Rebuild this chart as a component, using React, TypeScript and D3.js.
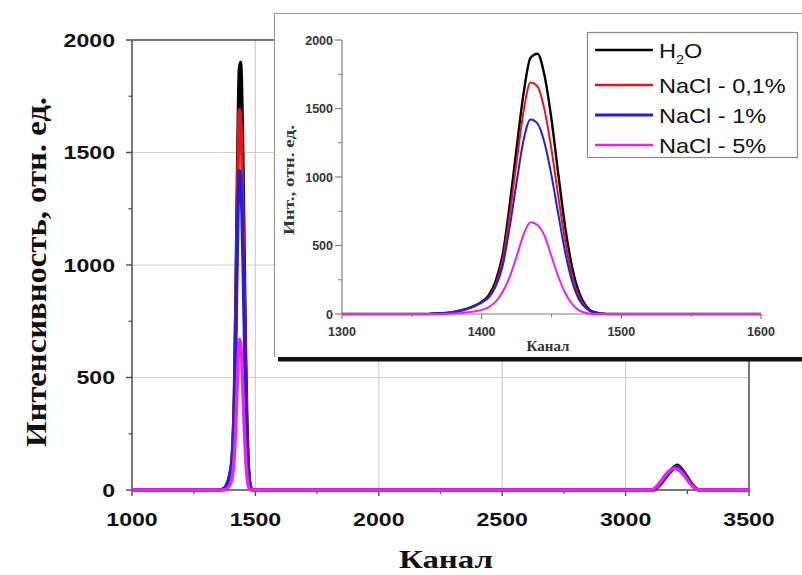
import React from "react";
import * as d3 from "d3";

// ---- data ----
const peak1Channels = [1360, 1370, 1380, 1390, 1400, 1405, 1410, 1415, 1420, 1425, 1430, 1435, 1440, 1445, 1450, 1455, 1460, 1465, 1470, 1475, 1480, 1490];
const h2oPeak1 = [0, 5, 15, 40, 90, 135, 240, 430, 790, 1210, 1610, 1870, 1900, 1740, 1420, 1010, 620, 330, 150, 55, 15, 0];
const nacl01Peak1 = [0, 5, 15, 40, 85, 125, 215, 390, 720, 1110, 1480, 1690, 1660, 1490, 1200, 850, 520, 270, 120, 45, 12, 0];
const nacl1Peak1 = [0, 5, 15, 40, 85, 120, 200, 350, 630, 960, 1270, 1420, 1390, 1250, 1010, 720, 440, 230, 100, 40, 10, 0];
const nacl5Peak1 = [0, 0, 3, 12, 30, 50, 90, 160, 270, 420, 580, 670, 650, 570, 420, 270, 150, 70, 25, 8, 0, 0];

const peak2Channels = [3100, 3120, 3140, 3160, 3180, 3200, 3210, 3220, 3240, 3260, 3280, 3300];
const h2oPeak2 = [0, 5, 25, 55, 85, 105, 110, 102, 75, 40, 12, 0];
const nacl01Peak2 = [0, 5, 25, 55, 82, 100, 104, 97, 70, 37, 10, 0];
const nacl1Peak2 = [0, 5, 25, 52, 80, 97, 100, 93, 66, 34, 9, 0];
const nacl5Peak2 = [0, 10, 35, 65, 88, 95, 92, 85, 60, 30, 8, 0];

const seriesNames = ["H2O", "NaCl - 0,1%", "NaCl - 1%", "NaCl - 5%"];
const seriesColors = ["#000000", "#e8141a", "#1e1ee6", "#ee22ee"];

const mainXTicks = [1000, 1500, 2000, 2500, 3000, 3500];
const mainYTicks = [0, 500, 1000, 1500, 2000];
const insetXTicks = [1300, 1400, 1500, 1600];
const insetYTicks = [0, 500, 1000, 1500, 2000];

const mainXTitle = "Канал";
const mainYTitle = "Интенсивность, отн. ед.";
const insetXTitle = "Канал";
const insetYTitle = "Инт., отн. ед.";

const peak1Values = [h2oPeak1, nacl01Peak1, nacl1Peak1, nacl5Peak1];
const peak2Values = [h2oPeak2, nacl01Peak2, nacl1Peak2, nacl5Peak2];

const SANS = "'Liberation Sans', Arial, sans-serif";
const SERIF = "'Liberation Serif', 'Times New Roman', serif";

export default function App() {
  const mx = d3.scaleLinear().domain([1000, 3500]).range([132, 749]);
  const my = d3.scaleLinear().domain([0, 2000]).range([490, 40]);
  const ix = d3.scaleLinear().domain([1300, 1600]).range([342, 761]);
  const iy = d3.scaleLinear().domain([0, 2000]).range([314, 40]);

  const mainSeries = seriesNames.map((_, s) => {
    const pts: [number, number][] = [[1000, 0]];
    peak1Channels.forEach((c, i) => pts.push([c, peak1Values[s][i]]));
    peak2Channels.forEach((c, i) => pts.push([c, peak2Values[s][i]]));
    pts.push([3500, 0]);
    return pts;
  });
  const insetSeries = seriesNames.map((_, s) => {
    const pts: [number, number][] = [[1300, 0]];
    peak1Channels.forEach((c, i) => pts.push([c, peak1Values[s][i]]));
    pts.push([1600, 0]);
    return pts;
  });

  const mainLine = d3
    .line<[number, number]>()
    .x((d) => mx(d[0]))
    .y((d) => my(d[1]))
    .curve(d3.curveMonotoneX);
  const insetLine = d3
    .line<[number, number]>()
    .x((d) => ix(d[0]))
    .y((d) => iy(d[1]))
    .curve(d3.curveMonotoneX);

  const mainXMinor = d3.range(1250, 3500, 500);
  const mainYMinor = d3.range(250, 2000, 500);
  const insetXMinor = d3.range(1350, 1600, 100);
  const insetYMinor = d3.range(250, 2000, 500);

  const spine = "#555";
  const grid = "#cfcfcf";
  const iaxis = "#808080";

  return (
    <svg
      width={802}
      height={575}
      style={{ position: "absolute", left: 0, top: 0, background: "#fff" }}
    >
      <rect x={0} y={0} width={802} height={575} fill="#fff" />
      {/* main grid */}
      {mainXTicks.slice(1, -1).map((t) => (
        <line key={"gx" + t} x1={mx(t)} x2={mx(t)} y1={my(0)} y2={my(2000)} stroke={grid} strokeWidth={1.2} />
      ))}
      {mainYTicks.slice(1, -1).map((t) => (
        <line key={"gy" + t} x1={mx(1000)} x2={mx(3500)} y1={my(t)} y2={my(t)} stroke={grid} strokeWidth={1.2} />
      ))}
      {/* main spines */}
      <rect x={mx(1000)} y={my(2000)} width={mx(3500) - mx(1000)} height={my(0) - my(2000)} fill="none" stroke={spine} strokeWidth={1.6} />
      {/* main ticks */}
      {mainYTicks.map((t) => (
        <line key={"ty" + t} x1={mx(1000) - 6} x2={mx(1000)} y1={my(t)} y2={my(t)} stroke={spine} strokeWidth={1.5} />
      ))}
      {mainYMinor.map((t) => (
        <line key={"tym" + t} x1={mx(1000) - 3.5} x2={mx(1000)} y1={my(t)} y2={my(t)} stroke={spine} strokeWidth={1.3} />
      ))}
      {mainXTicks.map((t) => (
        <line key={"tx" + t} x1={mx(t)} x2={mx(t)} y1={my(0)} y2={my(0) + 6} stroke={spine} strokeWidth={1.5} />
      ))}
      {mainXMinor.map((t) => (
        <line key={"txm" + t} x1={mx(t)} x2={mx(t)} y1={my(0)} y2={my(0) + 4} stroke={spine} strokeWidth={1.3} />
      ))}
      {/* main lines */}
      {mainSeries.map((pts, s) => (
        <path key={"ml" + s} d={mainLine(pts) || ""} fill="none" stroke={seriesColors[s]} strokeWidth={3.4} strokeLinejoin="round" />
      ))}
      {/* main tick labels */}
      {mainYTicks.map((t) => (
        <text
          key={"ly" + t}
          transform={`translate(${115},${my(t) + 6.5}) scale(1.25,1)`}
          textAnchor="end"
          fontFamily={SANS}
          fontWeight="bold"
          fontSize={18.5}
          fill="#111"
        >
          {t}
        </text>
      ))}
      {mainXTicks.map((t) => (
        <text
          key={"lx" + t}
          transform={`translate(${mx(t)},${526}) scale(1.25,1)`}
          textAnchor="middle"
          fontFamily={SANS}
          fontWeight="bold"
          fontSize={18.5}
          fill="#111"
        >
          {t}
        </text>
      ))}
      <text
        x={446}
        y={568}
        textAnchor="middle"
        fontFamily={SERIF}
        fontWeight="bold"
        fontSize={26}
        textLength={94}
        lengthAdjust="spacingAndGlyphs"
        fill="#111"
      >
        {mainXTitle}
      </text>
      <text
        transform={`translate(46,272) rotate(-90)`}
        textAnchor="middle"
        fontFamily={SERIF}
        fontWeight="bold"
        fontSize={29}
        textLength={350}
        lengthAdjust="spacingAndGlyphs"
        fill="#111"
      >
        {mainYTitle}
      </text>

      {/* inset */}
      <rect x={278} y={357} width={530} height={4.5} fill="#111" />
      <rect x={274} y={13} width={540} height={344} fill="#fff" />
      <line x1={274} x2={802} y1={13.5} y2={13.5} stroke="#9a9a9a" strokeWidth={1.2} />
      <line x1={274.5} x2={274.5} y1={13} y2={357} stroke="#9a9a9a" strokeWidth={1.2} />

      {/* inset axes */}
      <line x1={ix(1300)} x2={ix(1300)} y1={iy(0)} y2={iy(2000)} stroke={iaxis} strokeWidth={1.2} />
      <line x1={ix(1300)} x2={ix(1600)} y1={iy(0)} y2={iy(0)} stroke={iaxis} strokeWidth={1.2} />
      {insetYTicks.map((t) => (
        <line key={"ity" + t} x1={ix(1300) - 7} x2={ix(1300)} y1={iy(t)} y2={iy(t)} stroke={iaxis} strokeWidth={1.2} />
      ))}
      {insetYMinor.map((t) => (
        <line key={"itym" + t} x1={ix(1300) - 4} x2={ix(1300)} y1={iy(t)} y2={iy(t)} stroke={iaxis} strokeWidth={1} />
      ))}
      {insetXTicks.map((t) => (
        <line key={"itx" + t} x1={ix(t)} x2={ix(t)} y1={iy(0)} y2={iy(0) + 5} stroke={iaxis} strokeWidth={1.2} />
      ))}
      {insetXMinor.map((t) => (
        <line key={"itxm" + t} x1={ix(t)} x2={ix(t)} y1={iy(0)} y2={iy(0) + 3} stroke={iaxis} strokeWidth={1} />
      ))}
      {insetSeries.map((pts, s) => (
        <path key={"il" + s} d={insetLine(pts) || ""} fill="none" stroke={seriesColors[s]} strokeWidth={s === 0 ? 2.4 : 2} strokeLinejoin="round" />
      ))}
      {insetYTicks.map((t) => (
        <text key={"ily" + t} x={333} y={iy(t) + 4.5} textAnchor="end" fontFamily={SANS} fontWeight="bold" fontSize={12.5} fill="#333">
          {t}
        </text>
      ))}
      {insetXTicks.map((t) => (
        <text key={"ilx" + t} x={ix(t)} y={336} textAnchor="middle" fontFamily={SANS} fontWeight="bold" fontSize={12.5} fill="#333">
          {t}
        </text>
      ))}
      <text x={548} y={351} textAnchor="middle" fontFamily={SERIF} fontWeight="bold" fontSize={15} fill="#333">
        {insetXTitle}
      </text>
      <text
        transform={`translate(294,180) rotate(-90)`}
        textAnchor="middle"
        fontFamily={SERIF}
        fontWeight="bold"
        fontSize={14}
        textLength={110}
        lengthAdjust="spacingAndGlyphs"
        fill="#333"
      >
        {insetYTitle}
      </text>

      {/* legend */}
      <rect x={587.5} y={32.5} width={210} height={125} fill="#fff" stroke="#8a8a8a" strokeWidth={1.2} />
      {seriesNames.map((name, s) => {
        const yy = [50, 85, 115, 145][s];
        return (
          <g key={"lg" + s}>
            <line x1={595} x2={653} y1={yy} y2={yy} stroke={seriesColors[s]} strokeWidth={s === 2 ? 3 : 2.5} />
            <text
              transform={`translate(659,${yy + 8}) scale(1.12,1)`}
              fontFamily={SANS}
              fontSize={21}
              fill="#111"
            >
              {s === 0 ? (
                <>
                  <tspan>H</tspan>
                  <tspan fontSize={13} dy={6}>2</tspan>
                  <tspan dy={-6}>O</tspan>
                </>
              ) : (
                name
              )}
            </text>
          </g>
        );
      })}
    </svg>
  );
}
